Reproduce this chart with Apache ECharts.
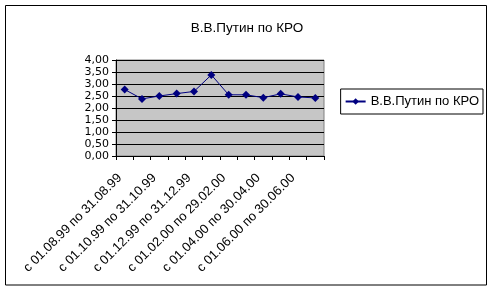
<!DOCTYPE html>
<html><head><meta charset="utf-8">
<script src="https://cdn.jsdelivr.net/npm/echarts@6/dist/echarts.min.js"></script>
<style>html,body{margin:0;padding:0;background:#fff}#c{width:494px;height:291px}</style>
</head><body><div id="c"></div>
<script>
const categories = [
  'с 01.08.99 по 31.08.99','с 01.09.99 по 30.09.99','с 01.10.99 по 31.10.99','с 01.11.99 по 30.11.99',
  'с 01.12.99 по 31.12.99','с 01.01.00 по 31.01.00','с 01.02.00 по 29.02.00','с 01.03.00 по 31.03.00',
  'с 01.04.00 по 30.04.00','с 01.05.00 по 31.05.00','с 01.06.00 по 30.06.00','с 01.07.00 по 31.07.00'
];
const seriesName = 'В.В.Путин по КРО';
const values = [2.77, 2.38, 2.50, 2.60, 2.69, 3.38, 2.55, 2.55, 2.43, 2.59, 2.46, 2.42];
const titleText = 'В.В.Путин по КРО';

const chart = echarts.init(document.getElementById('c'), null, {renderer:'canvas'});
const font = 'Liberation Sans, Arial, sans-serif';
chart.setOption({
  animation:false,
  backgroundColor:'#fff',
  textStyle:{fontFamily:font},
  title:{text:titleText,left:'center',top:16,textStyle:{fontFamily:font,fontSize:13.5,fontWeight:'normal',color:'#000'}},
  graphic:[{type:'rect',shape:{x:5.5,y:5.5,width:481,height:279.5},style:{fill:'none',stroke:'#000',lineWidth:1},z:-1}],
  legend:{
    right:11,top:89,orient:'vertical',
    itemWidth:20,itemHeight:8,itemGap:0,
    padding:[6,4,6,4],
    borderColor:'#000',borderWidth:1,
    textStyle:{fontFamily:font,fontSize:13,color:'#000'},
    data:[seriesName]
  },
  grid:{left:116,right:170,top:60,bottom:135,show:true,backgroundColor:'#c6c6c6',borderColor:'#808080',borderWidth:1},
  xAxis:{
    type:'category',data:categories,boundaryGap:true,
    axisLine:{lineStyle:{color:'#000'}},
    axisTick:{show:true,interval:0,length:4,inside:false,lineStyle:{color:'#000'}},
    axisLabel:{interval:1,rotate:45,fontSize:13,color:'#000',margin:15,padding:[0,7,0,0],fontFamily:font}
  },
  yAxis:{
    type:'value',min:0,max:4,interval:0.5,
    axisLine:{show:true,lineStyle:{color:'#000'}},
    axisTick:{show:true,length:4,lineStyle:{color:'#000'}},
    splitLine:{show:true,lineStyle:{color:'#000',width:1}},
    axisLabel:{fontSize:11,color:'#000',margin:7,fontFamily:'DejaVu Sans, sans-serif',showMinLabel:true,showMaxLabel:true,
      formatter:v=>v.toFixed(2).replace('.',',')}
  },
  series:[{
    name:seriesName,type:'line',data:values,
    symbol:'diamond',symbolSize:8,
    lineStyle:{color:'#000080',width:1},
    itemStyle:{color:'#000080'}
  }]
});
</script></body></html>
